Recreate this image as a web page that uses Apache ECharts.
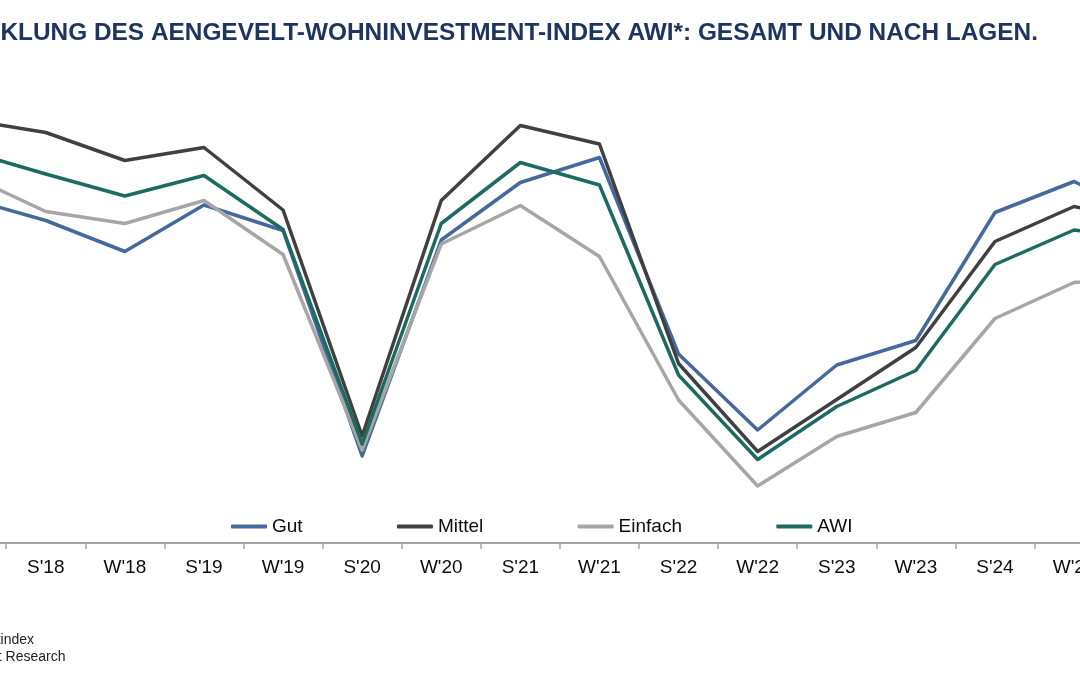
<!DOCTYPE html>
<html>
<head>
<meta charset="utf-8">
<script src="https://cdn.jsdelivr.net/npm/echarts@6/dist/echarts.min.js"></script>
<style>
html,body{margin:0;padding:0;background:#fff;}
#chart{width:1080px;height:675px;}
</style>
</head>
<body>
<div id="chart"></div>
<script>
// Categories (half-years); first and last lie partly outside the visible crop
var categories = ["W'17","S'18","W'18","S'19","W'19","S'20","W'20","S'21","W'21","S'22","W'22","S'23","W'23","S'24","W'24","S'25"];
var seriesNames = ["Gut","Mittel","Einfach","AWI"];
var gut     = [69.0, 64.5, 58.3, 67.6, 62.5, 17.4, 60.6, 72.1, 77.1, 37.8, 22.6, 35.6, 40.5, 66.1, 72.3, 64.8];
var mittel  = [84.7, 82.1, 76.5, 79.1, 66.6, 21.4, 68.5, 83.5, 79.8, 35.9, 18.3, 28.7, 39.1, 60.3, 67.3, 64.2];
var einfach = [73.7, 66.3, 63.9, 68.5, 57.7, 18.6, 59.8, 67.5, 57.3, 28.6, 11.4, 21.3, 26.1, 44.9, 52.1, 53.4];
var awi     = [78.4, 73.8, 69.4, 73.5, 62.7, 19.8, 63.9, 76.1, 71.6, 33.6, 16.7, 27.3, 34.5, 55.7, 62.6, 60.4];
var titleText = "ENTWICKLUNG DES AENGEVELT-WOHNINVESTMENT-INDEX AWI*: GESAMT UND NACH LAGEN.";
var note1 = "*AWI: Aengevelt-Wohninvestmentindex";
var note2 = "Quelle: Aengevelt Research";

var FONT = "'Liberation Sans', Arial, Helvetica, sans-serif";
var colors = ['#44699b', '#404040', '#a6a6a6', '#1d6a62'];
var dataList = [gut, mittel, einfach, awi];

var chart = echarts.init(document.getElementById('chart'), null, {renderer: 'canvas'});

var series = seriesNames.map(function (n, i) {
  return {
    name: n,
    type: 'line',
    data: dataList[i],
    showSymbol: false,
    symbol: 'none',
    smooth: false,
    lineStyle: {width: 3.5, color: colors[i], cap: 'round', join: 'round'},
    itemStyle: {color: colors[i]},
    emphasis: {disabled: true},
    z: 2 + i
  };
});

chart.setOption({
  animation: false,
  backgroundColor: '#ffffff',
  color: colors,
  grid: {left: -72.9, width: 1265.6, top: 43, height: 500, containLabel: false, outerBoundsMode: 'none'},
  xAxis: {
    type: 'category',
    data: categories,
    boundaryGap: true,
    axisLine: {show: true, lineStyle: {color: '#a6a6a6', width: 2}},
    axisTick: {show: true, length: 6, lineStyle: {color: '#a6a6a6', width: 1.5}},
    axisLabel: {interval: 0, fontSize: 19, color: '#0d0d0d', fontFamily: FONT, margin: 15, hideOverlap: false},
    splitLine: {show: false}
  },
  yAxis: {
    type: 'value',
    min: 0,
    max: 100,
    show: false
  },
  legend: {
    data: seriesNames,
    left: 231,
    top: 517,
    orient: 'horizontal',
    itemWidth: 36,
    itemHeight: 4,
    itemGap: 94.3,
    icon: 'roundRect',
    padding: 0,
    textStyle: {fontSize: 19, color: '#0d0d0d', fontFamily: FONT}
  },
  graphic: [
    {type: 'text', x: 1038, y: 33, silent: true,
     style: {text: titleText, align: 'right', verticalAlign: 'middle',
             font: 'bold 24.4px ' + FONT, fill: '#1f3560'}},
    {type: 'text', x: 34, y: 640, silent: true,
     style: {text: note1, align: 'right', verticalAlign: 'middle',
             font: '14px ' + FONT, fill: '#222222'}},
    {type: 'text', x: 65.5, y: 657, silent: true,
     style: {text: note2, align: 'right', verticalAlign: 'middle',
             font: '14px ' + FONT, fill: '#222222'}}
  ],
  series: series
});
</script>
</body>
</html>
